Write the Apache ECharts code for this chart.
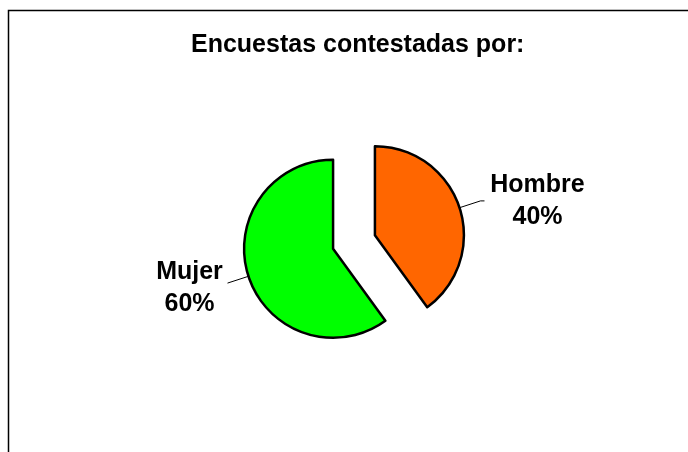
<!DOCTYPE html>
<html>
<head>
<meta charset="utf-8">
<script src="https://cdn.jsdelivr.net/npm/echarts@6/dist/echarts.min.js"></script>
<style>
    html, body { margin: 0; padding: 0; background: #fff; }
    #chart { width: 688px; height: 452px; }
</style>
</head>
<body>
<div id="chart"></div>
<script>
    // datos
    var titulo = 'Encuestas contestadas por:';
    var categorias = ['Hombre', 'Mujer'];
    var valores = [40, 60];
    var colores = ['#ff6600', '#00ff00'];
    var anchoEtiqueta = [96, 70];
    var largoLinea2 = [4, 0];

    var fuente = 'Liberation Sans, Arial, sans-serif';
    var chart = echarts.init(document.getElementById('chart'));

    var datos = categorias.map(function(nombre, i) {
        return {
            name: nombre,
            value: valores[i],
            selected: true,
            itemStyle: { color: colores[i] },
            labelLine: { length2: largoLinea2[i] },
            label: {
                rich: {
                    t: { width: anchoEtiqueta[i], align: 'center', fontSize: 25, fontWeight: 'bold', color: '#000', lineHeight: 32, fontFamily: fuente }
                }
            }
        };
    });

    var option = {
        animation: false,
        backgroundColor: '#fff',
        title: {
            text: titulo,
            left: 186,
            top: 28,
            textStyle: {
                fontFamily: fuente,
                fontSize: 25,
                fontWeight: 'bold',
                color: '#000'
            }
        },
        graphic: [{
            type: 'rect',
            shape: { x: 8.5, y: 10.5, width: 720, height: 500 },
            style: { fill: 'none', stroke: '#000', lineWidth: 1.5 },
            silent: true
        }],
        series: [{
            type: 'pie',
            center: [354, 242],
            radius: 89,
            startAngle: 90,
            clockwise: true,
            selectedMode: 'multiple',
            selectedOffset: 22,
            avoidLabelOverlap: false,
            emphasis: { disabled: true },
            itemStyle: { borderColor: '#000', borderWidth: 2.5 },
            label: {
                show: true,
                position: 'outside',
                formatter: '{t|{b}}\n{t|{d}%}',
                color: '#000'
            },
            labelLine: {
                show: true,
                length: 22,
                length2: 4,
                smooth: false,
                lineStyle: { color: '#000', width: 1 }
            },
            labelLayout: function(p) {
                if (p.dataIndex === 1) {
                    return { dx: 2, dy: 5 };
                }
            },
            data: datos
        }]
    };

    chart.setOption(option);
</script>
</body>
</html>
